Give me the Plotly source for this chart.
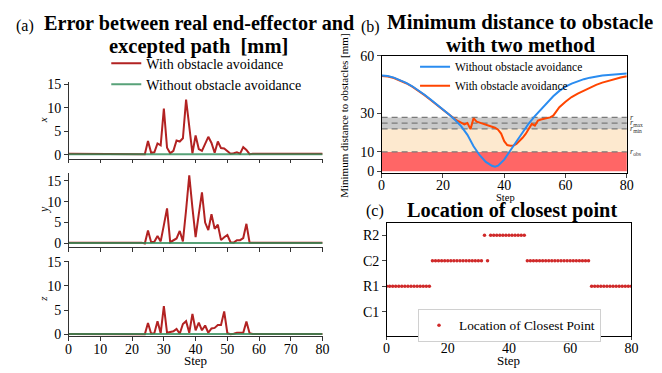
import plotly.graph_objects as go

W, H = 662, 373

# ---------------- data ----------------
steps = list(range(81))

err_x_with = [0.2, 0.2, 0.2, 0.2, 0.2, 0.2, 0.2, 0.2, 0.2, 0.2,
              0.2, 0.2, 0.2, 0.2, 0.2, 0.2, 0.2, 0.2, 0.2, 0.2,
              0.2, 0.2, 0.2, 0.2, 0.1, 2.9, 0.4, 0.5, 2.4, 2.0,
              9.8, 1.5, 0.3, 0.8, 3.0, 2.8, 3.5, 11.7, 5.5, 0.3,
              4.1, 1.2, 0.8, 2.2, 3.8, 2.5, 0.4, 2.8, 1.4, 1.3,
              0.8, 0.2, 0.3, 0.5, 0.2, 1.6, 1.0, 0.1, 0.2, 0.2,
              0.2, 0.2, 0.2, 0.2, 0.2, 0.2, 0.2, 0.2, 0.2, 0.2,
              0.2, 0.2, 0.2, 0.2, 0.2, 0.2, 0.2, 0.2, 0.2, 0.2, 0.2]
err_x_without = [0.1, 0.1, 0.1, 0.1, 0.1, 0.1, 0.1, 0.1, 0.1, 0.1,
                 0.1, 0.1, 0.1, 0.1, 0.1, 0.1, 0.1, 0.1, 0.1, 0.1,
                 0.05, 0.05, 0.05, 0.05, 0.05, 0.05, 0.05, 0.05, 0.05, 0.05,
                 0.05, 0.05, 0.05, 0.05, 0.05, 0.05, 0.05, 0.05, 0.05, 0.05,
                 0.05, 0.05, 0.05, 0.05, 0.05, 0.05, 0.05, 0.05, 0.05, 0.05,
                 0.05, 0.05, 0.05, 0.05, 0.05, 0.05, 0.05, 0.05, 0.05, 0.05,
                 0.1, 0.1, 0.1, 0.1, 0.1, 0.1, 0.1, 0.1, 0.1, 0.1,
                 0.1, 0.1, 0.1, 0.1, 0.1, 0.1, 0.1, 0.1, 0.1, 0.1, 0.1]

err_y_with = [0.2, 0.2, 0.2, 0.2, 0.2, 0.2, 0.2, 0.2, 0.2, 0.2,
              0.2, 0.2, 0.2, 0.2, 0.2, 0.2, 0.2, 0.2, 0.2, 0.2,
              0.2, 0.2, 0.2, 0.2, 0.0, 3.1, 0.3, 0.4, 1.8, 0.5,
              4.4, 8.4, 0.3, 0.8, 1.2, 3.0, 0.5, 8.0, 16.3, 8.5,
              1.5, 7.0, 12.2, 5.0, 3.2, 7.0, 3.5, 4.5, 0.8, 1.5,
              2.0, 0.3, 0.2, 0.8, 0.8, 1.3, 4.7, 0.2, 0.2, 0.2,
              0.2, 0.2, 0.2, 0.2, 0.2, 0.2, 0.2, 0.2, 0.2, 0.2,
              0.2, 0.2, 0.2, 0.2, 0.2, 0.2, 0.2, 0.2, 0.2, 0.2, 0.2]
err_y_without = [0.1, 0.1, 0.1, 0.1, 0.1, 0.1, 0.1, 0.1, 0.1, 0.1,
                 0.1, 0.1, 0.1, 0.1, 0.1, 0.1, 0.1, 0.1, 0.1, 0.1,
                 0.05, 0.05, 0.05, 0.05, 0.05, 0.05, 0.05, 0.05, 0.05, 0.05,
                 0.05, 0.05, 0.05, 0.05, 0.05, 0.05, 0.05, 0.05, 0.05, 0.05,
                 0.05, 0.05, 0.05, 0.05, 0.05, 0.05, 0.05, 0.05, 0.05, 0.05,
                 0.05, 0.05, 0.05, 0.05, 0.05, 0.05, 0.05, 0.05, 0.05, 0.05,
                 0.1, 0.1, 0.1, 0.1, 0.1, 0.1, 0.1, 0.1, 0.1, 0.1,
                 0.1, 0.1, 0.1, 0.1, 0.1, 0.1, 0.1, 0.1, 0.1, 0.1, 0.1]

err_z_with = [0.05, 0.05, 0.05, 0.05, 0.05, 0.05, 0.05, 0.05, 0.05, 0.05,
              0.05, 0.05, 0.05, 0.05, 0.05, 0.05, 0.05, 0.05, 0.05, 0.05,
              0.05, 0.05, 0.05, 0.05, 0.0, 2.3, 0.1, 0.2, 2.7, 0.2,
              5.8, 0.3, 0.4, 0.6, 1.1, 0.1, 2.1, 2.7, 0.3, 4.2,
              0.8, 2.4, 0.8, 1.8, 0.3, 1.2, 1.3, 1.9, 1.9, 4.7,
              0.2, 0.0, 0.1, 0.3, 0.3, 0.3, 2.6, 0.2, 0.05, 0.05,
              0.05, 0.05, 0.05, 0.05, 0.05, 0.05, 0.05, 0.05, 0.05, 0.05,
              0.05, 0.05, 0.05, 0.05, 0.05, 0.05, 0.05, 0.05, 0.05, 0.05, 0.05]
err_z_without = [0.05, 0.05, 0.05, 0.05, 0.05, 0.05, 0.05, 0.05, 0.05, 0.05,
                 0.05, 0.05, 0.05, 0.05, 0.05, 0.05, 0.05, 0.05, 0.05, 0.05,
                 0.05, 0.05, 0.05, 0.05, 0.05, 0.05, 0.05, 0.05, 0.05, 0.05,
                 0.05, 0.05, 0.05, 0.05, 0.05, 0.05, 0.05, 0.05, 0.05, 0.05,
                 0.05, 0.05, 0.05, 0.05, 0.05, 0.05, 0.05, 0.05, 0.05, 0.05,
                 0.05, 0.05, 0.05, 0.05, 0.05, 0.05, 0.05, 0.05, 0.05, 0.05,
                 0.05, 0.05, 0.05, 0.05, 0.05, 0.05, 0.05, 0.05, 0.05, 0.05,
                 0.05, 0.05, 0.05, 0.05, 0.05, 0.05, 0.05, 0.05, 0.05, 0.05, 0.05]

dist_without_steps = [0, 2, 4, 6, 8, 10, 12, 14, 16, 18, 20, 22, 24, 26, 28, 30,
                      32, 34, 36, 37, 38, 40, 42, 44, 46, 48, 50, 52, 54, 56, 58,
                      60, 62, 64, 66, 68, 70, 72, 74, 76, 78, 80]
dist_without = [49.8, 49.5, 48.7, 47.5, 46.0, 44.2, 42.1, 39.8, 37.3, 34.8, 32.2,
                29.5, 26.6, 23.3, 18.9, 13.0, 8.3, 4.8, 2.8, 2.3, 2.9, 6.0, 10.8,
                15.6, 20.4, 24.8, 28.7, 32.3, 35.8, 39.0, 41.8, 44.0, 45.6, 46.9,
                47.9, 48.7, 49.3, 49.8, 50.1, 50.4, 50.6, 50.8]

dist_with_steps = [0, 2, 4, 6, 8, 10, 12, 14, 16, 18, 20, 22, 23, 24, 25, 26, 27,
                   28, 29, 30, 31, 32, 33, 34, 35, 36, 37, 38, 39, 40, 41, 42, 43,
                   44, 45, 46, 47, 48, 49, 50, 51, 52, 53, 54, 55, 56, 57, 58, 60,
                   62, 64, 66, 68, 70, 72, 74, 76, 78, 80]
dist_with = [49.6, 49.3, 48.5, 47.3, 45.8, 44.0, 41.9, 39.6, 37.1, 34.6, 32.0,
             29.3, 28.0, 27.0, 26.0, 25.3, 24.3, 25.0, 21.9, 27.6, 25.8, 25.3,
             24.8, 24.4, 23.9, 23.3, 22.6, 21.6, 19.6, 15.6, 13.6, 13.2, 13.3,
             14.2, 15.7, 17.4, 19.4, 21.8, 24.6, 23.7, 26.3, 26.9, 27.3, 27.6,
             28.0, 28.9, 31.2, 33.3, 36.2, 38.6, 40.4, 42.0, 43.5, 44.9, 46.1,
             47.1, 48.0, 48.8, 49.4]

# safety radii [mm]
r_obs, r_min, r_max, r_out = 10, 22, 25, 28
threshold_values = [r_out, r_max, r_min, r_obs]
threshold_labels = ["<i>r</i>", "<i>r</i><sub>max</sub>",
                    "<i>r</i><sub>min</sub>", "<i>r</i><sub>obs</sub>"]

link_categories = ["C1", "R1", "C2", "R2"]
closest_location = (["R1"] * 15 + ["C2"] * 17 + ["R2", "C2"] + ["R2"] * 12
                    + ["C2"] * 21 + ["R1"] * 14)

# ---------------- styling ----------------
FONT = "Liberation Serif, Times New Roman, serif"
RED_A = "#b22222"
GREEN_A = "#2e8b57"
BLUE_B = "#2a8cf0"
ORANGE_B = "#ff4500"
DOT_C = "#d02a2a"


def fx(p):
    return p / W


def fy(p):
    return 1 - p / H


fig = go.Figure()

# panel (a) traces
panels = [("x", "y", err_x_with, err_x_without, True),
          ("x2", "y2", err_y_with, err_y_without, False),
          ("x3", "y3", err_z_with, err_z_without, False)]
for xa, ya, w, wo, show in panels:
    fig.add_trace(go.Scatter(x=steps, y=w, mode="lines", xaxis=xa, yaxis=ya,
                             line=dict(color=RED_A, width=2),
                             name="With obstacle avoidance", showlegend=show,
                             legend="legend"))
    fig.add_trace(go.Scatter(x=steps, y=wo, mode="lines", xaxis=xa, yaxis=ya,
                             line=dict(color=GREEN_A, width=2), opacity=0.8,
                             name="Without obstacle avoidance", showlegend=show,
                             legend="legend"))

# panel (b)
fig.add_trace(go.Scatter(x=dist_with_steps, y=dist_with, mode="lines",
                         xaxis="x4", yaxis="y4",
                         line=dict(color=ORANGE_B, width=2),
                         name="With obstacle avoidance", legend="legend2",
                         legendrank=2))
fig.add_trace(go.Scatter(x=dist_without_steps, y=dist_without, mode="lines",
                         xaxis="x4", yaxis="y4",
                         line=dict(color=BLUE_B, width=2),
                         name="Without obstacle avoidance", legend="legend2",
                         legendrank=1))

# panel (c)
fig.add_trace(go.Scatter(x=steps, y=closest_location, mode="markers",
                         xaxis="x5", yaxis="y5",
                         marker=dict(color=DOT_C, size=3.5),
                         name="Location of Closest Point", legend="legend3"))

# bands and dashed thresholds in (b)
band_edges = [(0, r_obs, "#ff6666"), (r_obs, r_min, "#fde9cf"),
              (r_min, r_out, "#c9c9c9")]
for y0, y1, col in band_edges:
    fig.add_shape(type="rect", xref="x4 domain", yref="y4", x0=0, x1=1,
                  y0=y0, y1=y1, fillcolor=col, line=dict(width=0),
                  layer="below")
for v, lab in zip(threshold_values, threshold_labels):
    fig.add_shape(type="line", xref="x4 domain", yref="y4", x0=0, x1=1,
                  y0=v, y1=v, line=dict(color="#7a7a7a", width=1.3,
                                        dash="6px,4px"), layer="below")
    fig.add_annotation(text=lab, xref="paper", yref="y4", x=fx(635), y=v,
                       xanchor="left", yanchor="middle", showarrow=False,
                       font=dict(family=FONT, size=8, color="#333"))

# axes
tickfont = dict(family=FONT, size=14, color="black")
left_dom = [fx(65.7), fx(324)]
common_left = dict(showgrid=False, zeroline=False, showline=True,
                   linecolor="#333", linewidth=1.2, ticks="outside",
                   ticklen=3.5, tickcolor="#333", tickfont=tickfont)
box = dict(showgrid=False, zeroline=False, showline=True, mirror=True,
           linecolor="black", linewidth=1, ticks="outside", ticklen=3.5,
           tickfont=tickfont)

fig.update_layout(
    xaxis=dict(domain=left_dom, anchor="y", range=[0, 80], dtick=10,
               showticklabels=False, **common_left),
    yaxis=dict(domain=[fy(157), fy(78)], anchor="x", range=[-0.82, 15.4],
               tickvals=[0, 5, 10, 15], **common_left),
    xaxis2=dict(domain=left_dom, anchor="y2", range=[0, 80], dtick=10,
                showticklabels=False, **common_left),
    yaxis2=dict(domain=[fy(249), fy(172)], anchor="x2", range=[-0.92, 16.85],
                tickvals=[0, 5, 10, 15], **common_left),
    xaxis3=dict(domain=left_dom, anchor="y3", range=[0, 80], dtick=10,
                ticklabelstandoff=-4, **common_left),
    yaxis3=dict(domain=[fy(341), fy(263)], anchor="x3", range=[-0.4, 15.2],
                tickvals=[0, 5, 10, 15], **common_left),
    xaxis4=dict(domain=[fx(384), fx(633.3)], anchor="y4", range=[0, 80],
                tickvals=[0, 20, 40, 60, 80], ticklabelstandoff=-5, **box),
    yaxis4=dict(domain=[fy(172.5), fy(50.7)], anchor="x4", range=[-1.2, 60],
                tickvals=[0, 10, 30, 60], **box),
    xaxis5=dict(domain=[fx(389), fx(638)], anchor="y5", range=[0, 80],
                tickvals=[0, 20, 40, 60, 80], ticklabelstandoff=-4, **box),
    yaxis5=dict(domain=[fy(340.7), fy(223.3)], anchor="x5",
                type="category", categoryorder="array",
                categoryarray=link_categories, range=[-0.94, 3.5], **box),
)

fig.update_layout(
    legend=dict(x=fx(104), y=fy(42), xanchor="left", yanchor="top",
                bgcolor="rgba(0,0,0,0)", font=dict(family=FONT, size=14),
                tracegroupgap=0),
    legend2=dict(x=fx(418), y=fy(47), xanchor="left", yanchor="top",
                 bgcolor="rgba(0,0,0,0)", font=dict(family=FONT, size=11.5)),
    legend3=dict(x=fx(421), y=fy(313), xanchor="left", yanchor="top",
                 bgcolor="white", bordercolor="#d0d0d0", borderwidth=1,
                 font=dict(family=FONT, size=13.3)),
)


def text(t, x, y, size, bold=False, italic=False, angle=0, xanchor="center"):
    if bold:
        t = "<b>" + t + "</b>"
    if italic:
        t = "<i>" + t + "</i>"
    fig.add_annotation(text=t, xref="paper", yref="paper", x=fx(x), y=fy(y),
                       xanchor=xanchor, yanchor="middle", showarrow=False,
                       textangle=angle,
                       font=dict(family=FONT, size=size, color="black"))


text("(a)", 21, 20, 16)
text("Error between real end-effector and", 198, 17, 20.2, bold=True)
text("excepted path  [mm]", 197.5, 41, 20.5, bold=True)
text("(b)", 373, 21, 16)
text("Minimum distance to obstacle", 525, 15, 20.8, bold=True)
text("with two method", 525, 39, 20.8, bold=True)
text("(c)", 377.5, 211, 16)
text("Location of closest point", 517, 211, 20.3, bold=True)

text("x", 40, 117, 11, italic=True, angle=-90)
text("y", 40, 210, 12, italic=True, angle=-90)
text("z", 40, 302, 11, italic=True, angle=-90)
text("Step", 195, 366, 13)
text("Minimum distance to obstacles [mm]", 345.5, 113, 11, angle=-90)
text("Step", 510, 197.5, 10.5)
text("Step", 513, 366, 13)

fig.update_layout(width=W, height=H, autosize=False,
                  margin=dict(l=0, r=0, t=0, b=0),
                  paper_bgcolor="white", plot_bgcolor="white",
                  font=dict(family=FONT, color="black"))

fig.write_html("out.html", config={"displayModeBar": False},
               post_script="document.body.style.margin='0px';"
                           "document.body.style.overflow='hidden';")
